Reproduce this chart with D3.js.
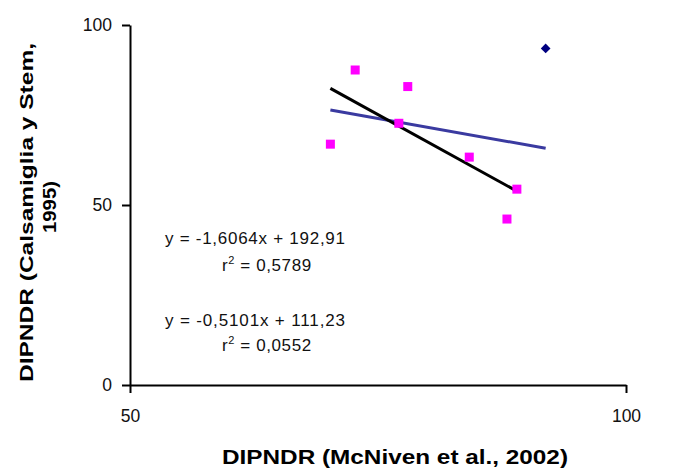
<!DOCTYPE html>
<html>
<head>
<meta charset="utf-8">
<script src="https://cdn.jsdelivr.net/npm/d3@7"></script>
<style>
  body { margin: 0; background: #fff; }
  text { font-family: Arial, "Liberation Sans", sans-serif; }
</style>
</head>
<body>
<div id="chart"></div>
<script>
// data
const groupX = [70.2, 72.7, 77.1, 78.0, 84.2, 89.0, 88.0];
const groupY = [66.9, 87.5, 72.7, 82.9, 63.3, 54.4, 46.1];
const outlierX = [91.9];
const outlierY = [93.5];
const xTicks = [50, 100];
const yTicks = [0, 50, 100];
const equations = [
  ["y = -1,6064x + 192,91", "= 0,5789"],
  ["y = -0,5101x + 111,23", "= 0,0552"]
];

const width = 674;
const height = 468;

const svg = d3.select("#chart")
  .append("svg")
  .attr("width", width)
  .attr("height", height);

const x = d3.scaleLinear().domain([50, 100]).range([130, 626]);
const y = d3.scaleLinear().domain([0, 100]).range([385, 25]);

// least squares fit
function fit(xs, ys) {
  const mx = d3.mean(xs), my = d3.mean(ys);
  let sxy = 0, sxx = 0;
  xs.forEach((v, i) => { sxy += (v - mx) * (ys[i] - my); sxx += (v - mx) * (v - mx); });
  const b = sxy / sxx;
  return { b: b, a: my - b * mx, x0: d3.min(xs), x1: d3.max(xs) };
}

const allX = groupX.concat(outlierX);
const allY = groupY.concat(outlierY);
const fits = [
  { f: fit(allX, allY), color: "#3a3aa0" },
  { f: fit(groupX, groupY), color: "#000" }
];

// axes
const yAxis = svg.append("g")
  .attr("transform", "translate(130,0)")
  .call(d3.axisLeft(y).tickValues(yTicks).tickSize(8).tickSizeOuter(0).tickPadding(10));
const xAxis = svg.append("g")
  .attr("transform", "translate(0,385)")
  .call(d3.axisBottom(x).tickValues(xTicks).tickSize(8).tickSizeOuter(0).tickPadding(17));

[yAxis, xAxis].forEach(g => {
  g.select(".domain").attr("stroke", "#000").attr("stroke-width", 2);
  g.selectAll(".tick line").attr("stroke", "#000").attr("stroke-width", 2);
  g.selectAll(".tick text").attr("fill", "#111").style("font-size", "17.5px")
    .style("font-family", "Arial, 'Liberation Sans', sans-serif");
});

// trend lines
svg.selectAll(".trend")
  .data(fits)
  .enter()
  .append("line")
  .attr("x1", d => x(d.f.x0))
  .attr("y1", d => y(d.f.a + d.f.b * d.f.x0))
  .attr("x2", d => x(d.f.x1))
  .attr("y2", d => y(d.f.a + d.f.b * d.f.x1))
  .attr("stroke", d => d.color)
  .attr("stroke-width", 3);

// magenta squares
svg.selectAll(".sq")
  .data(groupX.map((v, i) => [v, groupY[i]]))
  .enter()
  .append("rect")
  .attr("x", d => x(d[0]) - 4.5)
  .attr("y", d => y(d[1]) - 4.5)
  .attr("width", 9)
  .attr("height", 9)
  .attr("fill", "#ff00ff");

// navy diamond
svg.selectAll(".dm")
  .data(outlierX.map((v, i) => [v, outlierY[i]]))
  .enter()
  .append("path")
  .attr("d", d3.symbol().type(d3.symbolDiamond2).size(60))
  .attr("transform", d => "translate(" + x(d[0]) + "," + y(d[1]) + ")")
  .attr("fill", "#000080");

// equation labels
const eqPos = [[165, 244, 222, 271], [165, 326, 222, 351]];
equations.forEach((e, i) => {
  const p = eqPos[i];
  svg.append("text").attr("x", p[0]).attr("y", p[1])
    .attr("textLength", 180).attr("lengthAdjust", "spacing")
    .style("font-size", "17px").attr("fill", "#111").text(e[0]);
  const r = svg.append("text").attr("x", p[2]).attr("y", p[3])
    .style("font-size", "17px").style("letter-spacing", "0.6px").attr("fill", "#111");
  r.append("tspan").text("r");
  r.append("tspan").attr("dy", -7).style("font-size", "11px").text("2");
  r.append("tspan").attr("dy", 7).text(" " + e[1]);
});

// axis titles
svg.append("text")
  .attr("x", 222).attr("y", 464)
  .attr("textLength", 346).attr("lengthAdjust", "spacingAndGlyphs")
  .style("font-size", "21px").style("font-weight", "bold")
  .text("DIPNDR (McNiven et al., 2002)");

svg.append("text")
  .attr("transform", "translate(33,212) rotate(-90)")
  .attr("x", -170).attr("y", 0)
  .attr("textLength", 339).attr("lengthAdjust", "spacingAndGlyphs")
  .style("font-size", "18px").style("font-weight", "bold")
  .text("DIPNDR (Calsamiglia y Stem,");
svg.append("text")
  .attr("transform", "translate(56,207) rotate(-90)")
  .attr("x", -26).attr("y", 0)
  .attr("textLength", 52).attr("lengthAdjust", "spacingAndGlyphs")
  .style("font-size", "18px").style("font-weight", "bold")
  .text("1995)");
</script>
</body>
</html>
